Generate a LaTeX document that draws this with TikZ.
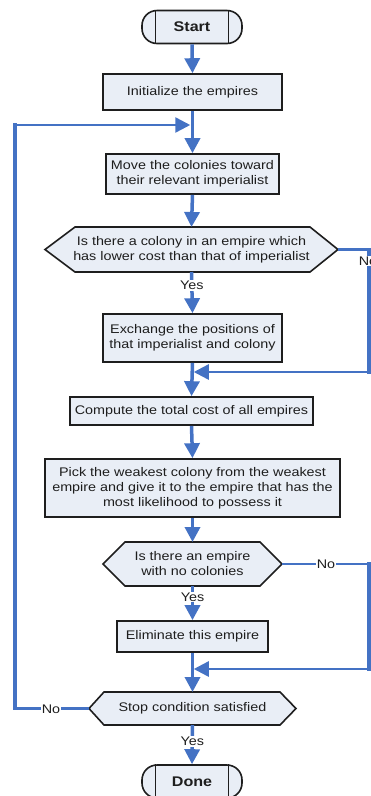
\documentclass[tikz,border=0pt]{standalone}
\usepackage{fontspec}
\setmainfont{Liberation Sans}[FakeStretch=1.15]
\usetikzlibrary{arrows.meta,calc}
\pgfdeclarelayer{bg}
\pgfsetlayers{bg,main}
\definecolor{flowblue}{HTML}{4472C4}
\definecolor{boxfill}{HTML}{E9EEF6}
\definecolor{ink}{HTML}{1E1E1E}
\newcommand\mkhex[3]{%
  \begin{pgfonlayer}{bg}
  \draw[hexa] (#1.west) -- ($(#1.north west)+(#2,0)$) -- ($(#1.north east)+(-#3,0)$)
     -- (#1.east) -- ($(#1.south east)+(-#3,0)$) -- ($(#1.south west)+(#2,0)$) -- cycle;
  \end{pgfonlayer}}
\newcommand\mkterm[1]{%
  \draw[ink, line width=1.6pt] ($(#1.north)+(-36.5,0)$) -- ($(#1.south)+(-36.5,0)$);
  \draw[ink, line width=1.6pt] ($(#1.north)+(36.5,0)$) -- ($(#1.south)+(36.5,0)$);}
\begin{document}
\begin{tikzpicture}[x=1pt,y=-1pt,
  font=\fontsize{12.5}{15}\selectfont, text=ink,
  proc/.style={draw=ink, line width=1.6pt, fill=boxfill, rectangle, inner sep=0pt, align=center},
  term/.style={draw=ink, line width=1.6pt, fill=boxfill, rectangle, rounded corners=15pt,
     inner sep=0pt, minimum width=100pt, minimum height=33pt,
     font=\fontsize{14}{16}\selectfont\bfseries},
  decn/.style={inner sep=0pt, outer sep=0pt, align=center},
  hexa/.style={draw=ink, line width=1.6pt, fill=boxfill, line join=miter},
  flow/.style={draw=flowblue, line width=3.5pt, -{Triangle[length=15pt,width=15pt]}},
  vline/.style={draw=flowblue, line width=3.5pt, line cap=rect},
  hline/.style={draw=flowblue, line width=2.5pt},
  harrow/.style={draw=flowblue, line width=2.5pt, -{Triangle[length=15pt,width=15pt]}},
  lab/.style={fill=white, inner sep=1pt, text=ink}
]
\useasboundingbox (0,0) rectangle (370,796);

% nodes
\node[term] (start) at (192,27) {Start};
\node[proc, minimum width=179pt, minimum height=36pt] (init) at (192.5,92) {Initialize the empires};
\node[proc, minimum width=173pt, minimum height=40pt] (move) at (192.5,174) {Move the colonies toward\\their relevant imperialist};
\node[decn, minimum width=293pt, minimum height=45pt] (d1) at (191.5,249.5) {Is there a colony in an empire which\\has lower cost than that of imperialist};
\mkhex{d1}{30}{28}
\node[proc, minimum width=179pt, minimum height=48pt] (exch) at (192.5,338) {Exchange the positions of\\that imperialist and colony};
\node[proc, minimum width=243pt, minimum height=28pt] (comp) at (191.5,411) {Compute the total cost of all empires};
\node[proc, minimum width=295pt, minimum height=58pt] (pick) at (192.5,488) {Pick the weakest colony from the weakest\\empire and give it to the empire that has the\\most likelihood to possess it};
\node[decn, minimum width=179pt, minimum height=44pt] (d2) at (192.5,564) {Is there an empire\\with no colonies};
\mkhex{d2}{22}{22}
\node[proc, minimum width=151pt, minimum height=31pt] (elim) at (192.5,636.5) {Eliminate this empire};
\node[decn, minimum width=207pt, minimum height=33pt] (d3) at (192.5,708.5) {Stop condition satisfied};
\mkhex{d3}{15}{16}
\node[term] (done) at (192,781.5) {Done};
\mkterm{start}
\mkterm{done}

% coordinates for loops
\coordinate (rx) at (369,0);
\coordinate (lx) at (15,0);
\coordinate (j0) at (190.25,125);
\coordinate (j1) at (193.75,372);
\coordinate (j2) at (193.75,669);

% main flow
\draw[flow] (start.south) -- (init.north);
\draw[flow] (init.south) -- (move.north);
\draw[flow] (move.south) -- (d1.north);
\draw[flow] (d1.south) -- node[lab, pos=0.33] {Yes} (exch.north);
\draw[flow] (exch.south) -- (comp.north);
\draw[flow] (comp.south) -- (pick.north);
\draw[flow] (pick.south) -- (d2.north);
\draw[flow] (d2.south) -- node[lab, pos=0.32] {Yes} (elim.north);
\draw[flow] (elim.south) -- (d3.north);
\draw[flow] (d3.south) -- node[lab, pos=0.42] {Yes} (done.north);

% loop 1: d1 No
\draw[hline] (d1.east) -- (d1.east -| rx);
\draw[vline] (d1.east -| rx) -- (rx |- j1);
\draw[harrow] (rx |- j1) -- (j1);
\node[lab] at (368,261) {No};

% loop 2: d2 No
\draw[hline] (d2.east) -- (d2.east -| rx);
\draw[vline] (d2.east -| rx) -- (rx |- j2);
\draw[harrow] (rx |- j2) -- (j2);
\node[lab] at (326,564) {No};

% loop 3: d3 No back to top
\draw[hline] (d3.west) -- (d3.west -| lx);
\draw[vline] (d3.west -| lx) -- (lx |- j0);
\draw[harrow] (lx |- j0) -- (j0);
\node[lab] at (51,709) {No};
\end{tikzpicture}
\end{document}
